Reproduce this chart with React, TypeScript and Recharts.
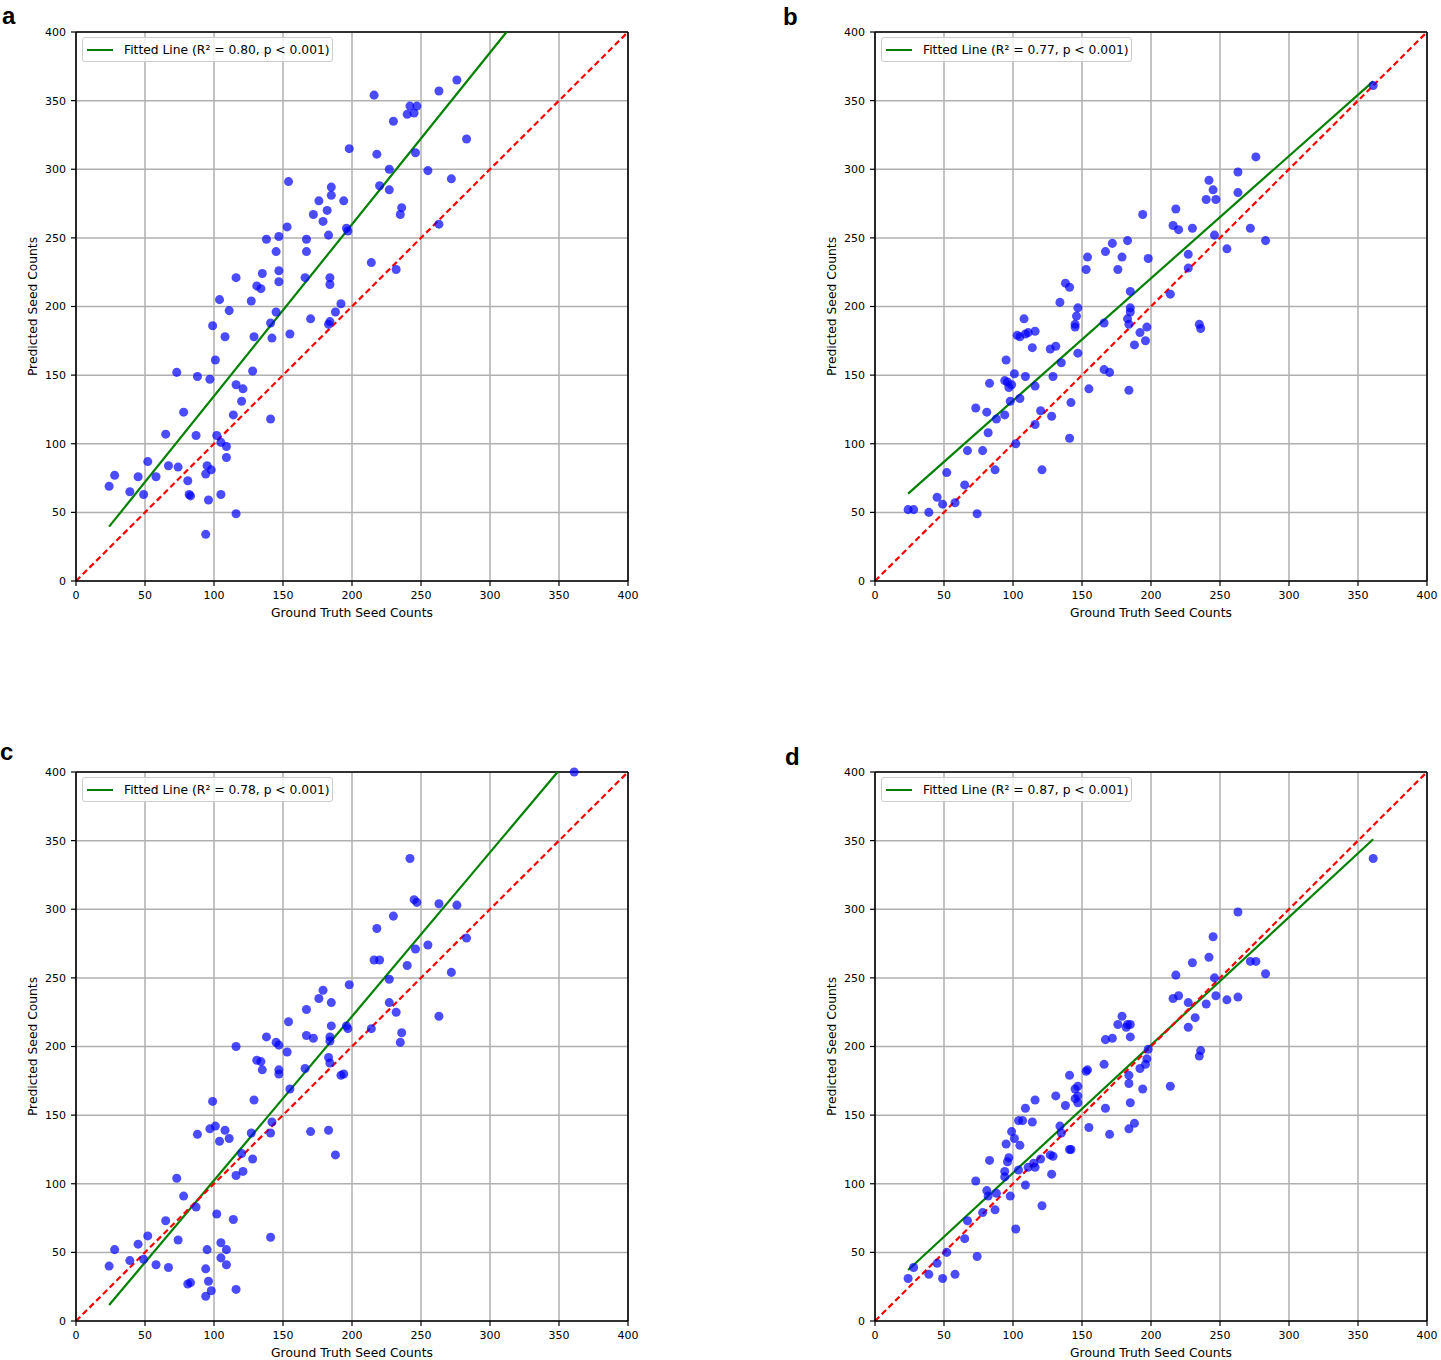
import React from "react";
import { CartesianGrid, Legend, ReferenceLine, Scatter, ScatterChart, XAxis, YAxis } from "recharts";

const TICKS = [0, 50, 100, 150, 200, 250, 300, 350, 400];
const FONT = "'DejaVu Sans', sans-serif";

// panel a
const aX = [24, 28, 39, 45, 49, 52, 58, 65, 67, 73, 74, 78, 81, 82, 83, 87, 88, 94, 94, 95, 96, 97, 98, 99, 101, 102, 104, 105, 105, 108, 109, 109, 111, 116, 116, 116, 114, 120, 121, 127, 128, 129, 131, 134, 135, 138, 141, 141, 142, 145, 145, 147, 147, 147, 153, 154, 155, 166, 167, 167, 170, 172, 176, 179, 182, 183, 183, 184, 184, 184, 185, 185, 188, 192, 194, 196, 197, 198, 214, 216, 218, 220, 227, 227, 230, 232, 235, 236, 240, 242, 245, 247, 246, 255, 263, 263, 272, 276, 283];
const aY = [69, 77, 65, 76, 63, 87, 76, 107, 84, 152, 83, 123, 73, 63, 62, 106, 149, 34, 78, 84, 59, 147, 81, 186, 161, 106, 205, 101, 63, 178, 98, 90, 197, 221, 143, 49, 121, 131, 140, 204, 153, 178, 215, 213, 224, 249, 118, 188, 177, 240, 196, 251, 226, 218, 258, 291, 180, 221, 249, 240, 191, 267, 277, 262, 270, 252, 187, 221, 216, 189, 287, 281, 196, 202, 277, 257, 255, 315, 232, 354, 311, 288, 300, 285, 335, 227, 267, 272, 340, 346, 341, 346, 312, 299, 260, 357, 293, 365, 322];

// panel b
const bX = [24, 28, 39, 45, 49, 52, 58, 65, 67, 73, 74, 78, 81, 82, 83, 87, 88, 94, 95, 94, 96, 97, 98, 99, 101, 102, 103, 105, 105, 108, 109, 109, 111, 114, 116, 116, 116, 120, 121, 127, 128, 129, 131, 135, 134, 138, 141, 141, 142, 145, 145, 146, 147, 147, 153, 154, 155, 166, 166, 167, 170, 172, 176, 179, 183, 183, 184, 184, 185, 185, 185, 188, 192, 194, 196, 197, 198, 214, 216, 218, 220, 227, 227, 230, 235, 236, 240, 242, 245, 247, 246, 255, 263, 263, 272, 276, 283, 361];
const bY = [52, 52, 50, 61, 56, 79, 57, 70, 95, 126, 49, 95, 123, 108, 144, 81, 118, 121, 161, 146, 145, 141, 131, 143, 151, 100, 179, 178, 133, 191, 149, 180, 181, 170, 182, 142, 114, 124, 81, 169, 120, 149, 171, 159, 203, 217, 214, 104, 130, 185, 187, 193, 199, 166, 227, 236, 140, 188, 154, 240, 152, 246, 227, 236, 248, 191, 139, 187, 196, 211, 199, 172, 181, 267, 175, 185, 235, 209, 259, 271, 256, 238, 228, 257, 187, 184, 278, 292, 285, 278, 252, 242, 298, 283, 257, 309, 248, 361];

// panel c
const cX = [24, 28, 39, 45, 49, 52, 58, 65, 67, 73, 74, 78, 81, 83, 87, 88, 94, 94, 95, 96, 97, 98, 99, 101, 102, 104, 105, 105, 108, 109, 109, 111, 116, 116, 116, 114, 120, 121, 127, 128, 129, 131, 134, 135, 138, 141, 141, 142, 145, 147, 147, 147, 153, 154, 155, 166, 167, 167, 170, 172, 176, 179, 183, 183, 184, 184, 184, 185, 185, 188, 192, 194, 196, 197, 198, 214, 216, 218, 220, 227, 227, 230, 232, 235, 236, 240, 242, 245, 247, 246, 255, 263, 263, 272, 276, 283, 361];
const cY = [40, 52, 44, 56, 45, 62, 41, 73, 39, 104, 59, 91, 27, 28, 83, 136, 18, 38, 52, 29, 140, 22, 160, 142, 78, 131, 46, 57, 139, 52, 41, 133, 200, 106, 23, 74, 122, 109, 137, 118, 161, 190, 189, 183, 207, 61, 137, 145, 203, 201, 183, 180, 196, 218, 169, 184, 227, 208, 138, 206, 235, 241, 192, 139, 207, 204, 188, 232, 215, 121, 179, 180, 215, 213, 245, 213, 263, 286, 263, 249, 232, 295, 225, 203, 210, 259, 337, 307, 305, 271, 274, 222, 304, 254, 303, 279, 400];

// panel d
const dX = [24, 28, 39, 45, 49, 52, 58, 65, 67, 73, 74, 78, 81, 82, 83, 87, 88, 94, 94, 95, 96, 97, 98, 99, 101, 102, 105, 104, 104, 107, 109, 109, 111, 114, 115, 116, 116, 120, 121, 127, 128, 129, 131, 134, 135, 138, 141, 141, 142, 145, 145, 147, 147, 147, 153, 154, 155, 166, 167, 167, 170, 172, 176, 179, 182, 183, 184, 184, 184, 185, 185, 185, 188, 192, 194, 196, 197, 198, 214, 216, 218, 220, 227, 227, 230, 232, 235, 236, 240, 242, 245, 247, 246, 255, 263, 263, 272, 276, 283, 361];
const dY = [31, 39, 34, 42, 31, 50, 34, 60, 73, 102, 47, 79, 95, 91, 117, 81, 93, 105, 109, 129, 116, 119, 91, 138, 133, 67, 128, 110, 146, 146, 155, 99, 112, 145, 115, 112, 161, 118, 84, 121, 107, 120, 164, 142, 137, 157, 179, 125, 125, 169, 162, 171, 164, 159, 182, 183, 141, 187, 155, 205, 136, 206, 216, 222, 214, 216, 140, 179, 173, 159, 207, 216, 144, 184, 169, 187, 191, 198, 171, 235, 252, 237, 232, 214, 261, 221, 193, 197, 231, 265, 280, 237, 250, 234, 298, 236, 262, 262, 253, 337];

// fitted line end points (visible part)
const fitAX = [24, 312];
const fitAY = [39.6, 400];
const fitBX = [24, 361];
const fitBY = [63.7, 364];
const fitCX = [24, 349];
const fitCY = [11.6, 400];
const fitDX = [24, 361];
const fitDY = [37.2, 351];

const r2Values = ["0.80", "0.77", "0.78", "0.87"];

function FitLegend({ r2 }: { r2: string }) {
  return (
    <div
      style={{
        boxSizing: "border-box",
        width: 251,
        height: 25,
        border: "1px solid #cccccc",
        borderRadius: 3,
        background: "rgba(255,255,255,0.8)",
        display: "flex",
        alignItems: "center",
        paddingLeft: 4,
        fontFamily: FONT,
        fontSize: 12.3,
        color: "#000",
        whiteSpace: "nowrap",
      }}
    >
      <span style={{ display: "inline-block", width: 26, height: 2, background: "green", marginRight: 11 }} />
      <span>{`Fitted Line (R² = ${r2}, p < 0.001)`}</span>
    </div>
  );
}

interface PanelProps {
  xs: number[];
  ys: number[];
  fitX: number[];
  fitY: number[];
  r2: string;
  left: number;
  top: number;
}

function Panel({ xs, ys, fitX, fitY, r2, left, top }: PanelProps) {
  const points = xs.map((x, i) => ({ x, y: ys[i] }));
  const tickStyle = { fill: "#000", fontSize: 11, fontFamily: FONT };
  return (
    <div style={{ position: "absolute", left, top, width: 640, height: 620 }}>
      <ScatterChart width={640} height={620} margin={{ top: 32, right: 12, bottom: 18, left: 0 }}>
        <CartesianGrid stroke="#b0b0b0" strokeWidth={1.5} />
        <XAxis
          type="number"
          dataKey="x"
          domain={[0, 400]}
          ticks={TICKS}
          interval={0}
          height={21}
          tick={tickStyle}
          tickSize={5}
          tickMargin={5}
          tickLine={{ stroke: "#000", strokeWidth: 1.2 }}
          axisLine={{ stroke: "#000", strokeWidth: 1.6 }}
          label={{
            value: "Ground Truth Seed Counts",
            position: "bottom",
            offset: 6,
            fill: "#000",
            style: { fontSize: 12.3, fontFamily: FONT, fill: "#000" },
          }}
        />
        <YAxis
          type="number"
          dataKey="y"
          domain={[0, 400]}
          ticks={TICKS}
          interval={0}
          width={76}
          tick={tickStyle}
          tickSize={5}
          tickMargin={5}
          tickLine={{ stroke: "#000", strokeWidth: 1.2 }}
          axisLine={{ stroke: "#000", strokeWidth: 1.6 }}
          label={{
            value: "Predicted Seed Counts",
            angle: -90,
            position: "insideLeft",
            offset: 33,
            fill: "#000",
            style: { textAnchor: "middle", fontSize: 12.3, fontFamily: FONT, fill: "#000" },
          }}
        />
        <ReferenceLine y={400} stroke="#000" strokeWidth={1.6} />
        <ReferenceLine x={400} stroke="#000" strokeWidth={1.6} />
        <Scatter data={points} fill="blue" fillOpacity={0.7} isAnimationActive={false} />
        <ReferenceLine
          segment={[
            { x: fitX[0], y: fitY[0] },
            { x: fitX[1], y: fitY[1] },
          ]}
          stroke="green"
          strokeWidth={2.2}
        />
        <ReferenceLine
          segment={[
            { x: 0, y: 0 },
            { x: 400, y: 400 },
          ]}
          stroke="red"
          strokeWidth={2.2}
          strokeDasharray="6 3.5"
        />
        <Legend
          layout="horizontal"
          verticalAlign="middle"
          align="center"
          content={() => <FitLegend r2={r2} />}
          wrapperStyle={{ left: 82, top: 37, width: "auto", height: "auto" }}
        />
      </ScatterChart>
    </div>
  );
}

const letterStyle: React.CSSProperties = {
  position: "absolute",
  fontFamily: "'Liberation Sans', Arial, sans-serif",
  fontWeight: "bold",
  fontSize: 24,
  lineHeight: "24px",
  color: "#000",
};

export default function App() {
  return (
    <div style={{ position: "absolute", left: 0, top: 0, width: 1441, height: 1360, background: "#fff", overflow: "hidden" }}>
      <Panel xs={aX} ys={aY} fitX={fitAX} fitY={fitAY} r2={r2Values[0]} left={0} top={0} />
      <Panel xs={bX} ys={bY} fitX={fitBX} fitY={fitBY} r2={r2Values[1]} left={799} top={0} />
      <Panel xs={cX} ys={cY} fitX={fitCX} fitY={fitCY} r2={r2Values[2]} left={0} top={740} />
      <Panel xs={dX} ys={dY} fitX={fitDX} fitY={fitDY} r2={r2Values[3]} left={799} top={740} />
      <div style={{ ...letterStyle, left: 2, top: 4 }}>a</div>
      <div style={{ ...letterStyle, left: 783, top: 5 }}>b</div>
      <div style={{ ...letterStyle, left: 0, top: 740 }}>c</div>
      <div style={{ ...letterStyle, left: 785, top: 745 }}>d</div>
    </div>
  );
}
